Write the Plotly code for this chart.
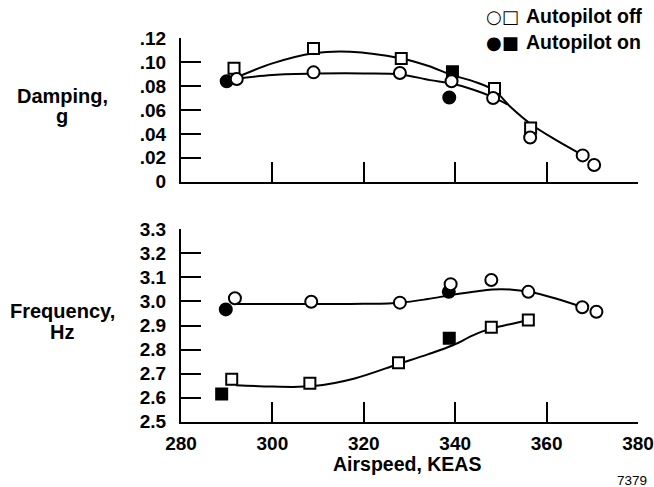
import plotly.graph_objects as go

# ---------------- data ----------------
# Damping, g
damp_off_circ_x = [292.2, 309.0, 327.9, 339.2, 348.3, 356.4, 367.9, 370.4]
damp_off_circ_y = [0.086, 0.0915, 0.091, 0.084, 0.070, 0.037, 0.022, 0.014]
damp_off_sq_x = [291.6, 309.0, 328.2, 348.6, 356.5]
damp_off_sq_y = [0.095, 0.1115, 0.103, 0.078, 0.045]
damp_on_circ_x = [290.0, 338.7]
damp_on_circ_y = [0.084, 0.0705]
damp_on_sq_x = [339.4]
damp_on_sq_y = [0.092]

# faired curves (damping)
damp_fit_a_x = [292, 300, 309, 317, 328, 334, 339.5, 344, 348.5, 352, 357, 362, 368]
damp_fit_a_y = [0.087, 0.099, 0.1075, 0.1088, 0.1033, 0.097, 0.089, 0.084, 0.0765, 0.063, 0.047, 0.035, 0.022]
damp_fit_b_x = [292, 300, 310, 320, 328, 334.5, 339, 344, 348, 351.5]
damp_fit_b_y = [0.0862, 0.0893, 0.0905, 0.0906, 0.0898, 0.085, 0.0823, 0.077, 0.0712, 0.0645]

# Frequency, Hz
freq_off_circ_x = [291.8, 308.5, 327.9, 339.0, 347.9, 356.0, 367.8, 370.9]
freq_off_circ_y = [3.013, 2.999, 2.995, 3.072, 3.089, 3.040, 2.976, 2.957]
freq_on_circ_x = [289.8, 338.6]
freq_on_circ_y = [2.967, 3.040]
freq_off_sq_x = [291.1, 308.2, 327.6, 347.9, 356.0]
freq_off_sq_y = [2.676, 2.660, 2.745, 2.893, 2.923]
freq_on_sq_x = [288.9, 338.7]
freq_on_sq_y = [2.615, 2.847]

# faired curves (frequency)
freq_fit_c_x = [292, 300, 310, 320, 328, 334, 339.2, 344, 348.1, 352, 356.2, 362, 367.9]
freq_fit_c_y = [2.989, 2.989, 2.989, 2.990, 2.995, 3.010, 3.027, 3.040, 3.050, 3.050, 3.040, 3.012, 2.976]
freq_fit_s_x = [292, 300, 309, 318, 327.6, 334, 339.6, 344, 347.9, 352, 356.1]
freq_fit_s_y = [2.652, 2.646, 2.648, 2.680, 2.740, 2.780, 2.819, 2.860, 2.888, 2.905, 2.923]

# ticks / labels
x_ticks = [280, 300, 320, 340, 360, 380]
damp_ticks = [0, 0.02, 0.04, 0.06, 0.08, 0.10, 0.12]
damp_tick_text = ["0", ".02", ".04", ".06", ".08", ".10", ".12"]
freq_ticks = [2.5, 2.6, 2.7, 2.8, 2.9, 3.0, 3.1, 3.2, 3.3]
freq_tick_text = ["2.5", "2.6", "2.7", "2.8", "2.9", "3.0", "3.1", "3.2", "3.3"]

# ---------------- figure ----------------
FAM = "Liberation Sans, Arial, sans-serif"
TICKF = dict(family=FAM, size=19, color="black", weight="bold")
TITLEF = dict(family=FAM, size=20, color="black", weight="bold")
LEGF = dict(family=FAM, size=19.5, color="black", weight="bold")
LW = 2
MS = 12

fig = go.Figure()


def add_panel(xa, ya, fits, on_c, on_s, off_s, off_c):
    for fx, fy in fits:
        fig.add_trace(go.Scatter(x=fx, y=fy, mode="lines", xaxis=xa, yaxis=ya,
                                 line=dict(color="black", width=LW, shape="spline", smoothing=1.0),
                                 showlegend=False, hoverinfo="skip"))
    fig.add_trace(go.Scatter(x=on_c[0], y=on_c[1], mode="markers", xaxis=xa, yaxis=ya,
                             marker=dict(symbol="circle", size=MS, color="black",
                                         line=dict(color="black", width=LW)), showlegend=False))
    fig.add_trace(go.Scatter(x=on_s[0], y=on_s[1], mode="markers", xaxis=xa, yaxis=ya,
                             marker=dict(symbol="square", size=MS - 1, color="black",
                                         line=dict(color="black", width=LW)), showlegend=False))
    fig.add_trace(go.Scatter(x=off_s[0], y=off_s[1], mode="markers", xaxis=xa, yaxis=ya,
                             marker=dict(symbol="square", size=MS - 1, color="white",
                                         line=dict(color="black", width=LW)), showlegend=False))
    fig.add_trace(go.Scatter(x=off_c[0], y=off_c[1], mode="markers", xaxis=xa, yaxis=ya,
                             marker=dict(symbol="circle", size=MS, color="white",
                                         line=dict(color="black", width=LW)), showlegend=False))


add_panel("x", "y",
          [(damp_fit_a_x, damp_fit_a_y), (damp_fit_b_x, damp_fit_b_y)],
          (damp_on_circ_x, damp_on_circ_y), (damp_on_sq_x, damp_on_sq_y),
          (damp_off_sq_x, damp_off_sq_y), (damp_off_circ_x, damp_off_circ_y))
add_panel("x2", "y2",
          [(freq_fit_c_x, freq_fit_c_y), (freq_fit_s_x, freq_fit_s_y)],
          (freq_on_circ_x, freq_on_circ_y), (freq_on_sq_x, freq_on_sq_y),
          (freq_off_sq_x, freq_off_sq_y), (freq_off_circ_x, freq_off_circ_y))

W, H = 654, 487
x0, x1 = 181, 638
axis_common = dict(showline=True, linecolor="black", linewidth=2, ticks="inside",
                   ticklen=20, tickwidth=2, tickcolor="black", showgrid=False,
                   zeroline=False, mirror=False, tickfont=TICKF, fixedrange=True,
                   automargin=False)

fig.update_layout(
    width=W, height=H,
    margin=dict(l=0, r=0, t=0, b=0, pad=0),
    paper_bgcolor="white", plot_bgcolor="white",
    showlegend=False,
    xaxis=dict(domain=[x0 / W, x1 / W], range=[280, 380], anchor="y",
               tickvals=x_ticks[1:], showticklabels=False, **axis_common),
    yaxis=dict(domain=[1 - 181.7 / H, 1 - 38.3 / H], range=[0, 0.12], anchor="x",
               tickvals=damp_ticks, ticktext=damp_tick_text, ticklabelstandoff=9,
               **axis_common),
    xaxis2=dict(domain=[x0 / W, x1 / W], range=[280, 380], anchor="y2",
                tickvals=x_ticks, ticktext=[str(v) for v in x_ticks],
                ticklabelstandoff=3, **axis_common),
    yaxis2=dict(domain=[1 - 421.7 / H, 1 - 229.3 / H], range=[2.5, 3.3], anchor="x2",
                tickvals=freq_ticks, ticktext=freq_tick_text, ticklabelstandoff=9,
                **axis_common),
)


def A(text, x, y, font, xanchor="center"):
    return dict(text=text, x=x / W, y=1 - y / H, xref="paper", yref="paper",
                xanchor=xanchor, yanchor="middle", font=font, showarrow=False)


ann = [
    A("Damping,", 62, 96, TITLEF),
    A("g", 62, 116, TITLEF),
    A("Frequency,", 62, 311, TITLEF),
    A("Hz", 62, 332, TITLEF),
    A("Airspeed, KEAS", 407, 464, LEGF),
    A("7379", 649, 480, dict(family=FAM, size=13.5, color="black"), xanchor="right"),
    A("○□", 521, 16, dict(family="DejaVu Sans", size=18, color="black"), xanchor="right"),
    A("●■", 521, 42, dict(family="DejaVu Sans", size=18, color="black"), xanchor="right"),
    A("Autopilot off", 524, 16, LEGF, xanchor="left"),
    A("Autopilot on", 524, 42, LEGF, xanchor="left"),
]
fig.update_layout(annotations=ann)

fig.write_html("out.html", config={"displayModeBar": False},
               post_script="document.body.style.margin='0';document.body.style.padding='0';")
